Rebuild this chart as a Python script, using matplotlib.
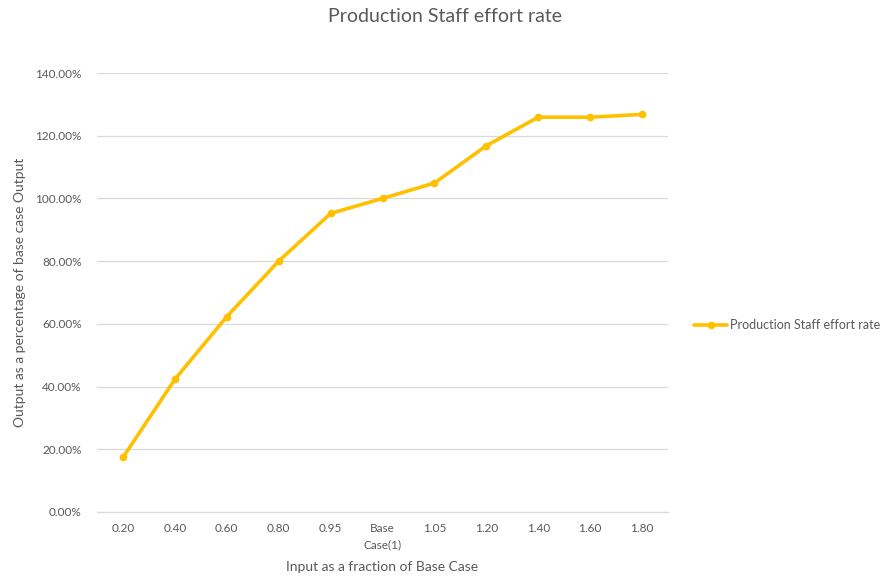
import matplotlib
matplotlib.use("Agg")
import matplotlib.pyplot as plt
from matplotlib.ticker import FuncFormatter

plt.rcParams['font.family'] = ['Lato', 'DejaVu Sans']

categories = ["0.20", "0.40", "0.60", "0.80", "0.95", "Base\nCase(1)",
              "1.05", "1.20", "1.40", "1.60", "1.80"]
output_pct = [17.4, 42.3, 62.3, 80.0, 95.2, 100.0, 104.9, 116.8, 125.9, 125.9, 126.8]
series_name = "Production Staff effort rate"

line_color = "#FFC000"
grid_color = "#D9D9D9"
text_color = "#595959"

fig = plt.figure(figsize=(8.81, 5.80), dpi=100)
ax = fig.add_axes([97 / 881, 1 - 512 / 580, (668 - 97) / 881, (512 - 73) / 580])

x = list(range(len(categories)))
ax.plot(x, [v / 100 for v in output_pct], color=line_color, linewidth=2.6,
        marker="o", markersize=4.5, label=series_name, solid_capstyle="round")

ax.set_xlim(-0.5, len(categories) - 0.5)
ax.set_ylim(0, 1.4)
ax.set_yticks([i * 0.2 for i in range(8)])
ax.yaxis.set_major_formatter(FuncFormatter(lambda v, p: f"{v * 100:.2f}%"))
ax.set_xticks(x)
ax.set_xticklabels(categories, linespacing=1.55)

ax.grid(axis="y", color=grid_color, linewidth=0.9)
ax.set_axisbelow(True)
for s in ("top", "right", "left"):
    ax.spines[s].set_visible(False)
ax.spines["bottom"].set_color(grid_color)
ax.spines["bottom"].set_linewidth(0.9)

ax.tick_params(axis="both", length=0, labelsize=8.5, colors=text_color)
ax.tick_params(axis="y", pad=11)
ax.tick_params(axis="x", pad=8)
for lbl in ax.get_xticklabels():
    lbl.set_verticalalignment("top")

ax.set_xlabel("Input as a fraction of Base Case", fontsize=10, color=text_color, labelpad=8)
ax.set_ylabel("Output as a percentage of base case Output", fontsize=10,
              color=text_color, labelpad=7)

fig.text(445 / 881, 1 - 16 / 580, "Production Staff effort rate", ha="center",
         va="center", fontsize=14, color=text_color)

leg = ax.legend(loc="center left", bbox_to_anchor=(688 / 881, 1 - 325 / 580),
                bbox_transform=fig.transFigure, frameon=False, fontsize=9,
                handlelength=2.6, handletextpad=0.3, borderpad=0)
for t in leg.get_texts():
    t.set_color(text_color)

fig.savefig("out.png", dpi=100, facecolor="white")
